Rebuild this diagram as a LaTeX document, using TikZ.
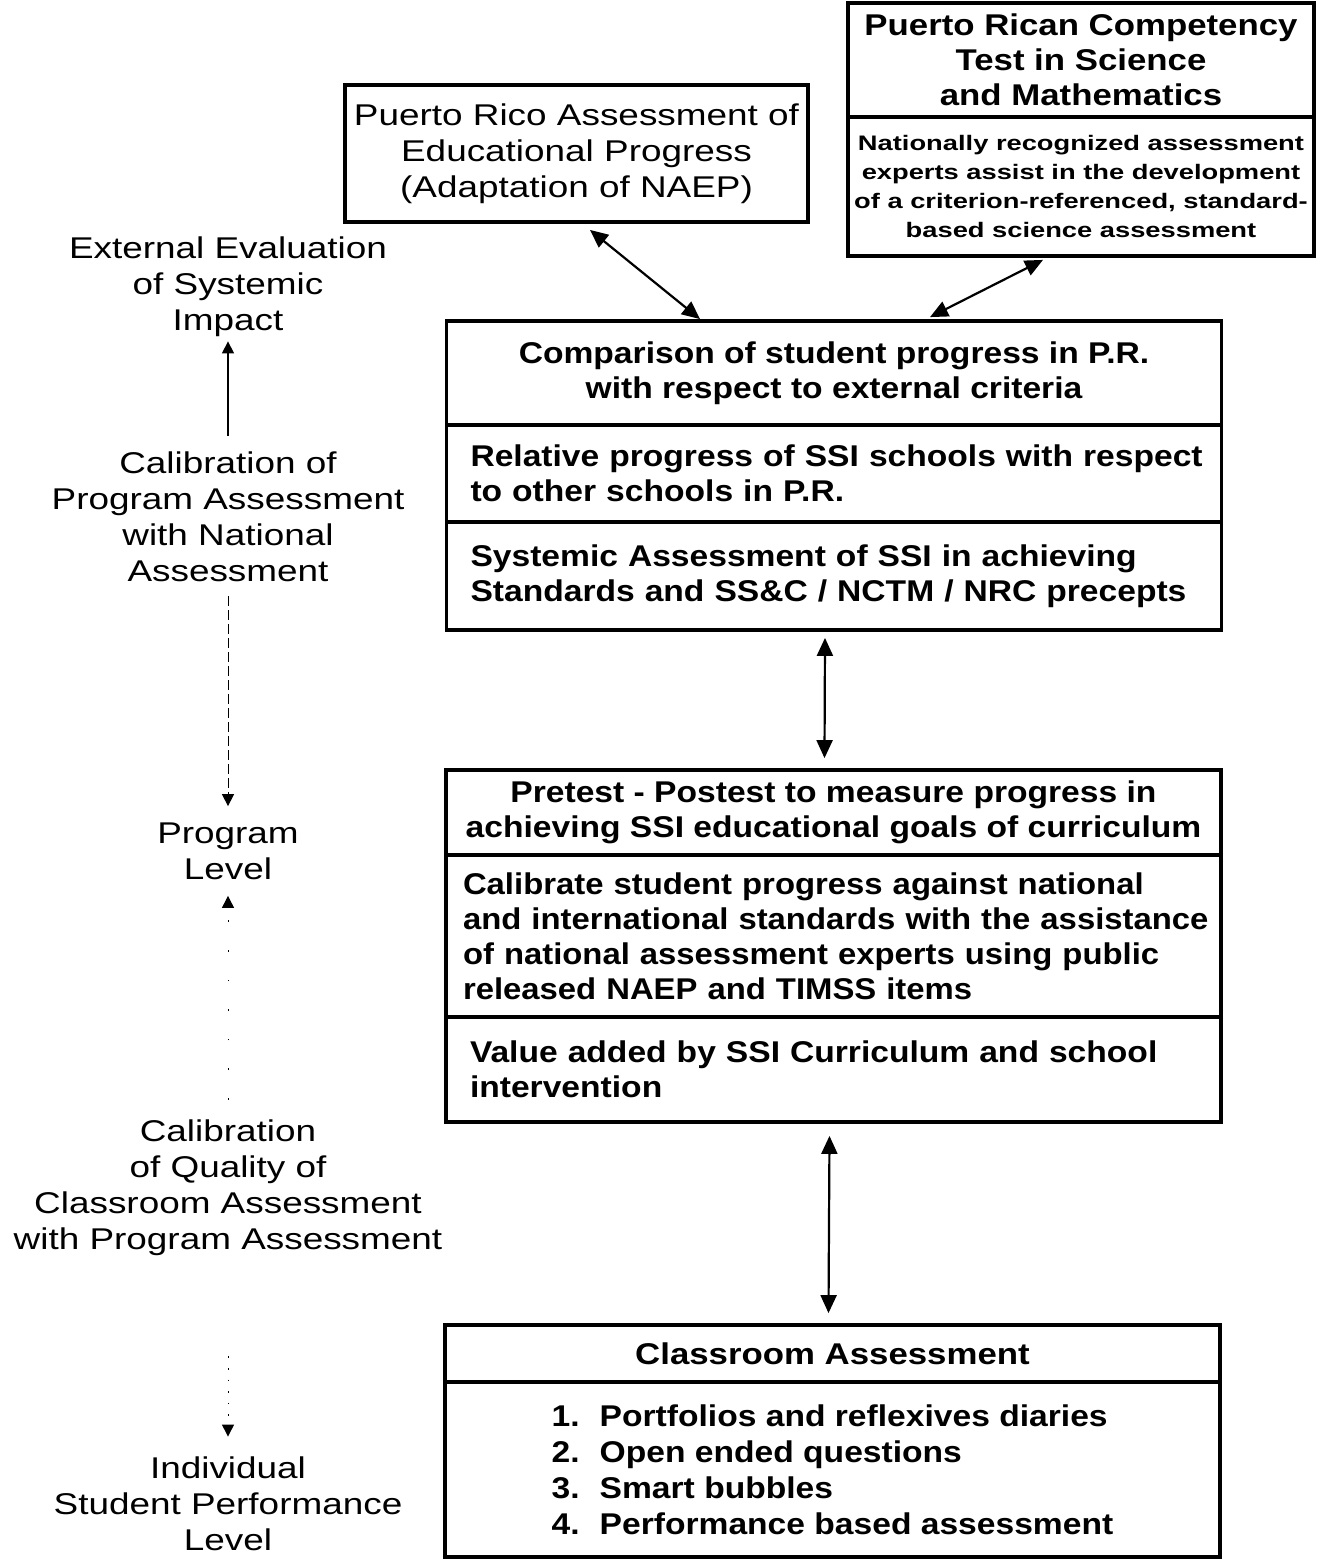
\documentclass[tikz,border=0pt]{standalone}
\usepackage{fontspec}
\setmainfont{Liberation Sans}
\newfontfamily\labfont[FakeStretch=1.23]{Liberation Sans}
\newfontfamily\boxfont[FakeStretch=1.12]{Liberation Sans}
\newfontfamily\narrowfont[FakeStretch=1.095]{Liberation Sans}
\newfontfamily\smallbfont[FakeStretch=1.3]{Liberation Sans}
\newfontfamily\headfont[FakeStretch=1.16]{Liberation Sans}
\usetikzlibrary{arrows.meta}
\begin{document}
\begin{tikzpicture}[x=0.5pt,y=-0.5pt,
  sec/.style={draw, line width=1.9pt, inner sep=0pt},
  wide/.style={minimum width=387.5pt},
  lab/.style={align=center, inner sep=0pt, font=\labfont\fontsize{15}{18}\selectfont},
  btext/.style={font=\boxfont\bfseries\fontsize{15}{17.5}\selectfont},
  lsec/.style={sec, wide, align=left, btext},
  dbl/.style={line width=1.1pt, {Triangle[width=8pt,length=9pt]}-{Triangle[width=8pt,length=9pt]}},
  lefttip/.style={-{Triangle[width=6pt,length=6pt]}}
]
\useasboundingbox (0,0) rectangle (1323,1564);

% Box A
\node[sec, minimum width=231.5pt, minimum height=68.5pt, align=center,
  font=\labfont\fontsize{15}{18}\selectfont] (A) at (576.5,153.5)
  {Puerto Rico Assessment of\\Educational Progress\\(Adaptation of NAEP)};

% Box B
\node[sec, minimum width=233pt, minimum height=57pt, align=center,
  font=\headfont\bfseries\fontsize{15}{17.5}\selectfont] (B1) at (1081,60)
  {Puerto Rican Competency\\Test in Science\\and Mathematics};
\node[sec, minimum width=233pt, minimum height=69.5pt, align=center,
  font=\smallbfont\bfseries\fontsize{10.5}{14.5}\selectfont] (B2) at (1081,186.5)
  {Nationally recognized assessment\\experts assist in the development\\of a criterion-referenced, standard-\\based science assessment};

% Box C
\node[sec, wide, minimum height=52pt, align=center, btext] (C1) at (834,373)
  {Comparison of student progress in P.R.\\with respect to external criteria};
\node[lsec, minimum height=48.5pt, inner xsep=12pt, text width=363.5pt] (C2) at (834,473.5)
  {\mbox{Relative progress of SSI schools with respect}\\\mbox{to other schools in P.R.}};
\node[lsec, minimum height=54pt, inner xsep=12pt, text width=363.5pt] (C3) at (834,576)
  {\mbox{Systemic Assessment of SSI in achieving}\\\mbox{Standards and SS\&C / NCTM / NRC precepts}};

% Box D
\node[sec, wide, minimum height=42.5pt, align=center, btext] (D1) at (833.5,812.5)
  {Pretest - Postest to measure progress in\\achieving SSI educational goals of curriculum};
\node[lsec, minimum height=81pt, inner xsep=8.5pt, text width=370.5pt,
  font=\narrowfont\bfseries\fontsize{15}{17.5}\selectfont] (D2) at (833.5,936)
  {\mbox{Calibrate student progress against national}\\\mbox{and international standards with the assistance}\\\mbox{of national assessment experts using public}\\\mbox{released NAEP and TIMSS items}};
\node[lsec, minimum height=52.5pt, inner xsep=12pt, text width=363.5pt] (D3) at (833.5,1069.5)
  {\mbox{Value added by SSI Curriculum and school}\\\mbox{intervention}};

% Box E
\node[sec, wide, minimum height=28.5pt, align=center,
  font=\headfont\bfseries\fontsize{15}{17.5}\selectfont] (E1) at (832.5,1353.5)
  {Classroom Assessment};
\node[sec, wide, minimum height=87.5pt, align=left,
  font=\boxfont\bfseries\fontsize{15}{18}\selectfont] (E2) at (832.5,1469.5)
  {\makebox[24pt][l]{1.}Portfolios and reflexives diaries\\
   \makebox[24pt][l]{2.}Open ended questions\\
   \makebox[24pt][l]{3.}Smart bubbles\\
   \makebox[24pt][l]{4.}Performance based assessment};

% Left labels
\node[lab] (L1) at (228,287) {External Evaluation\\of Systemic\\Impact};
\node[lab] (L2) at (228,517) {Calibration of\\Program Assessment\\with National\\Assessment};
\node[lab] (L3) at (228,851) {Program\\Level};
\node[lab] (L4) at (228,1188) {Calibration\\of Quality of\\Classroom Assessment\\with Program Assessment};
\node[lab] (L5) at (228,1504) {Individual\\Student Performance\\Level};

% Right connectors
\draw[dbl] ([xshift=6.75pt,yshift=-3pt]A.south) -- ([xshift=-67pt]C1.north);
\draw[dbl] ([xshift=-19pt,yshift=-1pt]B2.south) -- ([xshift=48pt,yshift=1pt]C1.north);
\draw[dbl] ([xshift=-4.5pt,yshift=-3pt]C3.south) -- ([xshift=-4.5pt,yshift=5pt]D1.north);
\draw[dbl] ([xshift=-2pt,yshift=-6pt]D3.south) -- ([xshift=-2pt,yshift=5pt]E1.north);

% Left connectors
\draw[lefttip, line width=0.6pt] ([yshift=8pt]L2.north) -- ([yshift=-2pt]L1.south);
\draw[lefttip, line width=0.5pt, dash pattern=on 5pt off 2pt] ([yshift=-7pt]L2.south) -- ([yshift=8pt]L3.north);
\draw[lefttip, line width=0.4pt, dash pattern=on 0.8pt off 14pt] ([yshift=10pt]L4.north) -- ([yshift=-8pt]L3.south);
\draw[lefttip, line width=0.5pt, dash pattern=on 0.8pt off 5pt] ([yshift=-50pt]L4.south) -- ([yshift=10pt]L5.north);
\end{tikzpicture}
\end{document}
